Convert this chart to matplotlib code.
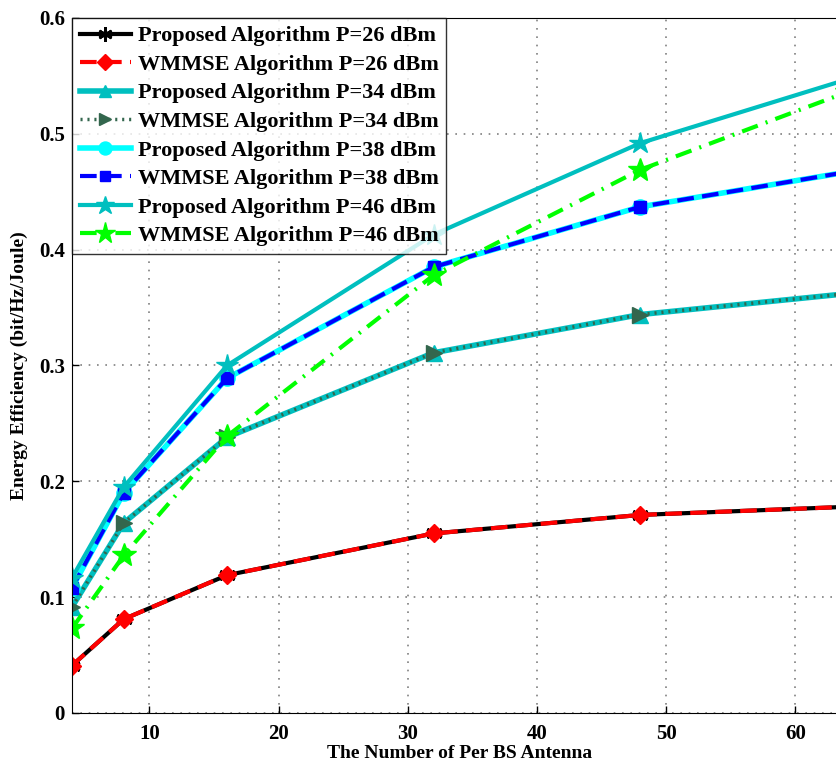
import matplotlib
matplotlib.use("Agg")
import matplotlib.pyplot as plt

plt.rcParams['font.family'] = ['Liberation Serif', 'DejaVu Serif']
plt.rcParams['font.weight'] = 'bold'

antennas = [4, 8, 16, 32, 48, 64]

prop_26 = [0.041, 0.081, 0.119, 0.155, 0.171, 0.178]
wmmse_26 = [0.041, 0.081, 0.119, 0.155, 0.171, 0.178]
prop_34 = [0.0915, 0.164, 0.238, 0.311, 0.344, 0.362]
wmmse_34 = [0.0915, 0.164, 0.238, 0.311, 0.344, 0.362]
prop_38 = [0.108, 0.190, 0.289, 0.385, 0.437, 0.467]
wmmse_38 = [0.108, 0.190, 0.289, 0.385, 0.437, 0.467]
prop_46 = [0.1166, 0.195, 0.300, 0.413, 0.492, 0.547]
wmmse_46 = [0.073, 0.136, 0.239, 0.378, 0.469, 0.536]

labels = [
    "Proposed Algorithm P=26 dBm", "WMMSE Algorithm P=26 dBm",
    "Proposed Algorithm P=34 dBm", "WMMSE Algorithm P=34 dBm",
    "Proposed Algorithm P=38 dBm", "WMMSE Algorithm P=38 dBm",
    "Proposed Algorithm P=46 dBm", "WMMSE Algorithm P=46 dBm",
]

teal = (0.0, 0.75, 0.75)
dkgreen = (0.2, 0.4, 0.3)

fig = plt.figure(figsize=(8.37, 7.65), dpi=100)
# axes runs past the right edge of the picture, as in the reference
ax = fig.add_axes([72 / 837, 1 - 713 / 765, 775 / 837, 695 / 765])

lw = 3
ax.plot(antennas, prop_26, color='black', ls='-', lw=lw, marker=(6, 2, 0), ms=12, mew=2, label=labels[0])
ax.plot(antennas, wmmse_26, color='red', ls=(0, (4, 2)), lw=lw, marker='D', ms=9, mfc='red', mec='red', label=labels[1])
ax.plot(antennas, prop_34, color=teal, ls='-', lw=lw + 1, marker='^', ms=11, label=labels[2])
ax.plot(antennas, wmmse_34, color=dkgreen, ls=(0, (0.6, 1.4)), lw=lw - 0.5, marker='>', ms=11, label=labels[3])
ax.plot(antennas, prop_38, color='cyan', ls='-', lw=lw + 1, marker='o', ms=11, label=labels[4])
ax.plot(antennas, wmmse_38, color='blue', ls=(0, (4, 2)), lw=lw, marker='s', ms=9, label=labels[5])
ax.plot(antennas, prop_46, color=teal, ls='-', lw=lw, marker='*', ms=16, label=labels[6])
ax.plot(antennas, wmmse_46, color=(0.0, 1.0, 0.0), ls=(0, (4, 2, 0.5, 2)), lw=lw, marker='*', ms=18, label=labels[7])

ax.set_xlim(4, 64)
ax.set_ylim(0, 0.6)
ax.set_xticks([10, 20, 30, 40, 50, 60])
ax.set_yticks([0, 0.1, 0.2, 0.3, 0.4, 0.5, 0.6])
ax.set_yticklabels(["0", "0.1", "0.2", "0.3", "0.4", "0.5", "0.6"])
ax.tick_params(labelsize=15, direction='in', length=5, width=1)
ax.tick_params(axis='x', pad=8)
ax.tick_params(axis='y', pad=5)
for t in ax.get_xticklabels() + ax.get_yticklabels():
    t.set_fontweight('bold')
ax.grid(True, ls=(0, (1, 4)), color='0.5', lw=1.2)

ax.set_xlabel("The Number of Per BS Antenna", fontsize=14, fontweight='bold', labelpad=1)
ax.set_ylabel("Energy Efficiency (bit/Hz/Joule)", fontsize=14, fontweight='bold', labelpad=8)

leg = ax.legend(loc='upper left', prop={'weight': 'bold', 'size': 16},
                borderaxespad=0, frameon=True, fancybox=False, edgecolor='black',
                handlelength=2.3, labelspacing=0.36, borderpad=0.35, handletextpad=0.3,
                markerscale=0.85)
leg.get_frame().set_linewidth(1)

fig.savefig("out.png", dpi=100)
